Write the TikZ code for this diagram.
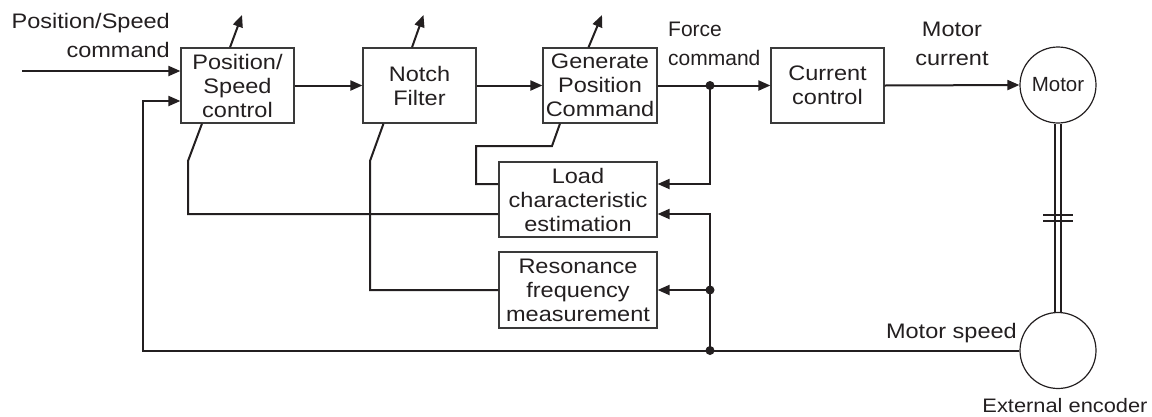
\documentclass[tikz,border=0pt]{standalone}
\usepackage{fontspec}
\setmainfont{Liberation Sans}[FakeStretch=1.12]
\newfontfamily\plainsans{Liberation Sans}
\usetikzlibrary{arrows.meta}
\definecolor{linec}{HTML}{231F20}
\definecolor{boxc}{HTML}{3A3A3A}
\begin{document}
\begin{tikzpicture}[x=1pt,y=-1pt,
  box/.style={draw=boxc, line width=1.2pt, minimum width=113pt, minimum height=75pt, inner sep=0pt, align=center, font=\fontsize{21}{24}\selectfont, text=linec},
  wbox/.style={box, minimum width=158pt},
  conn/.style={draw=linec, line width=2pt},
  arr/.style={conn, -{Triangle[length=12pt,width=10pt]}},
  jdot/.style={circle, fill=linec, inner sep=0pt, minimum size=9pt},
  lbl/.style={inner sep=0pt, font=\fontsize{21}{24}\selectfont, text=linec},
  plbl/.style={inner sep=0pt, font=\plainsans\fontsize{21}{24}\selectfont, text=linec},
  wheel/.style={circle, draw=linec, line width=1.2pt, minimum size=76pt, inner sep=0pt, font=\plainsans\fontsize{20.5}{22}\selectfont, text=linec},
  shaft/.style={draw=linec, line width=1.5pt}
]
\useasboundingbox (0,0) rectangle (1152,416);

% blocks
\node[box] (ps) at (237.5,85.5) {Position/\\Speed\\control};
\node[box] (notch) at (419.5,85.5) {Notch\\Filter};
\node[box, minimum width=114pt] (gpc) at (600,85.5) {Generate\\Position\\Command};
\node[box] (cur) at (827.5,85.5) {Current\\control};
\node[wbox] (load) at (578,199.5) {Load\\characteristic\\estimation};
\node[wbox, minimum height=76pt] (res) at (578,290) {Resonance\\frequency\\measurement};
\node[wheel] (motor) at (1058,85) {Motor};
\node[wheel] (enc) at (1058,350.5) {};

% labels
\node[lbl, anchor=base east] (lin1) at (170,28.3) {Position/Speed};
\node[lbl, anchor=base east] (lin2) at (170,57.3) {command};
\node[plbl, anchor=base west] (lforce1) at (668,36.7) {Force};
\node[plbl, anchor=base west] (lforce2) at (668,65.7) {command};
\node[lbl, anchor=base] (lcur1) at (952,36.7) {Motor};
\node[lbl, anchor=base] (lcur2) at (952,65.7) {current};
\node[lbl, anchor=base east] (lspeed) at (1017,338.3) {Motor speed};
\node[lbl, anchor=base, font=\fontsize{19.5}{22}\selectfont] (lenc) at (1065,412.5) {External encoder};

% coordinates
\coordinate (in) at (22,71);
\coordinate (fb) at (143,350.5);
\node[jdot] (j1) at (710,85.5) {};
\node[jdot] (j2) at (710,290) {};
\node[jdot] (j3) at (710,350.5) {};
\coordinate (psup) at (242,15);
\coordinate (notchup) at (423.5,15);
\coordinate (gpcup) at (602,15);
\coordinate (g1) at (476,146);
\coordinate (g2) at (552,146);
\coordinate (p1) at (188,161);
\coordinate (n1) at (370,161);
\coordinate (b1) at (1043,215);
\coordinate (b2) at (1073,215);
\coordinate (b3) at (1043,221);
\coordinate (b4) at (1073,221);

% main path
\draw[arr] (in) -- ([yshift=14.5pt]ps.west);
\draw[arr] (ps.east) -- (notch.west);
\draw[arr] (notch.east) -- (gpc.west);
\draw[conn] (gpc.east) -- (j1.center);
\draw[arr] (j1.center) -- (cur.west);
\draw[arr] (cur.east) -- (motor.west);

% feedback
\draw[arr] (enc.west) -- (fb) |- ([yshift=-15.5pt]ps.west);
\draw[arr] (j1.center) |- ([yshift=15.5pt]load.east);
\draw[arr] (j3.center) |- ([yshift=-14.5pt]load.east);
\draw[arr] (j2.center) -- (res.east);

% adaptation paths
\draw[conn] ([yshift=15.5pt]load.west) -| (g1) -- (g2) -- ([xshift=-40pt]gpc.south);
\draw[conn] ([yshift=-14.5pt]load.west) -| (p1) -- ([xshift=-35.5pt]ps.south);
\draw[conn] (res.west) -| (n1) -- ([xshift=-36pt]notch.south);

% tuning arrows
\draw[arr] ([xshift=-7.5pt]ps.north) -- (psup);
\draw[arr] ([xshift=-7.5pt]notch.north) -- (notchup);
\draw[arr] ([xshift=-11.5pt]gpc.north) -- (gpcup);

% shaft
\draw[shaft] ([xshift=-3pt]motor.south) -- ([xshift=-3pt]enc.north);
\draw[shaft] ([xshift=3pt]motor.south) -- ([xshift=3pt]enc.north);
\draw[shaft] (b1) -- (b2);
\draw[shaft] (b3) -- (b4);
\end{tikzpicture}
\end{document}
